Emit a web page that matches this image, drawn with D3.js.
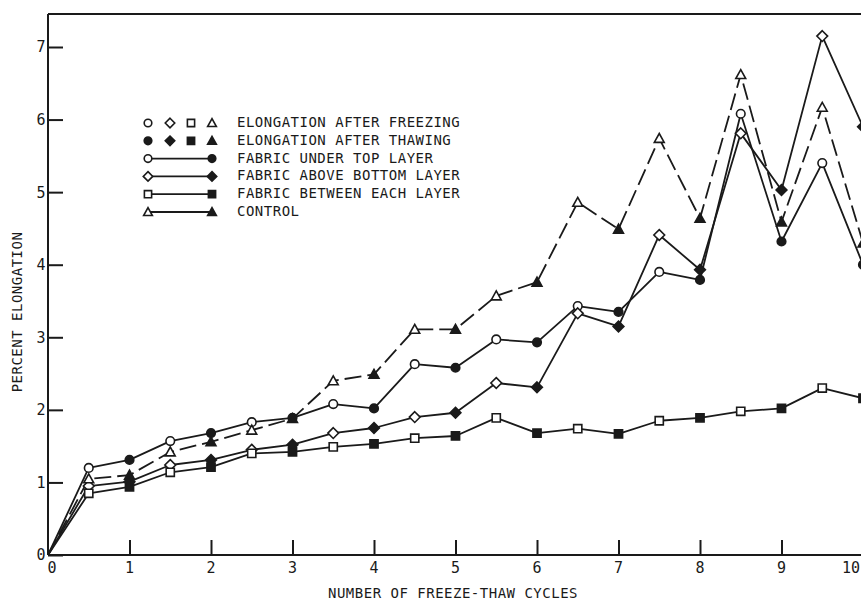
<!DOCTYPE html>
<html>
<head>
<meta charset="utf-8">
<script src="https://cdn.jsdelivr.net/npm/d3@7"></script>
<style>
  html, body { margin: 0; padding: 0; background: #fff; }
  svg { display: block; }
  text { font-family: "DejaVu Sans Mono", "Liberation Mono", monospace; fill: #1a1a1a; }
</style>
</head>
<body>
<svg id="chart" width="861" height="600"></svg>
<script>
// ---- data ----
const cycles = [0, 0.5, 1, 1.5, 2, 2.5, 3, 3.5, 4, 4.5, 5, 5.5, 6, 6.5, 7, 7.5, 8, 8.5, 9, 9.5, 10];
const underTopLayer    = [0, 1.20, 1.31, 1.57, 1.68, 1.83, 1.89, 2.08, 2.02, 2.63, 2.58, 2.97, 2.93, 3.43, 3.35, 3.90, 3.79, 6.08, 4.32, 5.40, 4.00];
const aboveBottomLayer = [0, 0.95, 1.01, 1.24, 1.31, 1.45, 1.52, 1.68, 1.75, 1.90, 1.96, 2.37, 2.31, 3.33, 3.15, 4.41, 3.93, 5.81, 5.03, 7.15, 5.90];
const betweenEachLayer = [0, 0.85, 0.94, 1.14, 1.21, 1.40, 1.42, 1.49, 1.53, 1.61, 1.64, 1.89, 1.68, 1.74, 1.67, 1.85, 1.89, 1.98, 2.02, 2.30, 2.16];
const controlSeries    = [0, 1.05, 1.10, 1.42, 1.56, 1.72, 1.88, 2.40, 2.49, 3.11, 3.11, 3.57, 3.76, 4.86, 4.49, 5.74, 4.64, 6.62, 4.59, 6.17, 4.30];
const xTicks = [0, 1, 2, 3, 4, 5, 6, 7, 8, 9, 10];
const yTicks = [0, 1, 2, 3, 4, 5, 6, 7];
const legendLabels = [
  "ELONGATION AFTER FREEZING",
  "ELONGATION AFTER THAWING",
  "FABRIC UNDER TOP LAYER",
  "FABRIC ABOVE BOTTOM LAYER",
  "FABRIC BETWEEN EACH LAYER",
  "CONTROL"
];
const xTitle = "NUMBER OF FREEZE-THAW CYCLES";
const yTitle = "PERCENT ELONGATION";

const series = [
  { name: "FABRIC UNDER TOP LAYER", values: underTopLayer, shape: "circle", dashed: false },
  { name: "FABRIC ABOVE BOTTOM LAYER", values: aboveBottomLayer, shape: "diamond", dashed: false },
  { name: "FABRIC BETWEEN EACH LAYER", values: betweenEachLayer, shape: "square", dashed: false },
  { name: "CONTROL", values: controlSeries, shape: "triangle", dashed: true }
];

// ---- layout ----
const svg = d3.select("#chart");
const ink = "#1a1a1a";
const x = d3.scaleLinear().domain([0, 10]).range([48, 863]);
const y = d3.scaleLinear().domain([0, 7]).range([555, 47]);
const plotTop = 14;

// marker shapes
function shapePath(shape, s) {
  switch (shape) {
    case "circle": return d3.symbol().type(d3.symbolCircle).size(Math.PI * s * s)();
    case "diamond": { const d = s * 1.25; return `M0,${-d}L${d},0L0,${d}L${-d},0Z`; }
    case "square": { const h = s * 0.95; return `M${-h},${-h}H${h}V${h}H${-h}Z`; }
    case "triangle": { const h = s * 1.15; return `M0,${-h}L${h},${h * 0.8}L${-h},${h * 0.8}Z`; }
  }
}
function drawMarker(g, shape, cx, cy, filled, s) {
  g.append("path")
    .attr("d", shapePath(shape, s))
    .attr("transform", `translate(${cx},${cy})`)
    .attr("fill", filled ? ink : "#fff")
    .attr("stroke", ink)
    .attr("stroke-width", 1.6);
}

// ---- frame / axes ----
const axisG = svg.append("g");
axisG.append("line").attr("x1", x(0)).attr("x2", 861).attr("y1", plotTop).attr("y2", plotTop)
  .attr("stroke", ink).attr("stroke-width", 2);

const yAxis = d3.axisRight(y).tickValues(yTicks).tickSize(15).tickFormat("");
const yg = svg.append("g").attr("transform", `translate(${x(0)},0)`).call(yAxis);
yg.select(".domain").remove();
yg.selectAll(".tick line").attr("stroke", ink).attr("stroke-width", 2);
axisG.append("line").attr("x1", x(0)).attr("x2", x(0)).attr("y1", plotTop).attr("y2", y(0))
  .attr("stroke", ink).attr("stroke-width", 2);
svg.append("g").selectAll("text").data(yTicks).join("text")
  .attr("x", 41).attr("y", d => y(d)).attr("dy", "0.36em")
  .attr("text-anchor", "middle").attr("font-size", 15)
  .text(d => d);

const xAxis = d3.axisTop(x).tickValues(xTicks.filter(d => d > 0)).tickSize(15).tickFormat("");
const xg = svg.append("g").attr("transform", `translate(0,${y(0)})`).call(xAxis);
xg.select(".domain").remove();
xg.selectAll(".tick line").attr("stroke", ink).attr("stroke-width", 2);
axisG.append("line").attr("x1", x(0)).attr("x2", 861).attr("y1", y(0)).attr("y2", y(0))
  .attr("stroke", ink).attr("stroke-width", 2);
svg.append("g").selectAll("text").data(xTicks).join("text")
  .attr("x", d => d === 0 ? x(d) + 4 : (d === 10 ? 860 : x(d)))
  .attr("y", 568).attr("dy", "0.36em")
  .attr("text-anchor", d => d === 10 ? "end" : "middle").attr("font-size", 15)
  .text(d => d);

// titles
svg.append("text").attr("x", 453).attr("y", 593).attr("dy", "0.36em")
  .attr("text-anchor", "middle").attr("font-size", 14).attr("letter-spacing", 0.5)
  .text(xTitle);
svg.append("text").attr("transform", "translate(17,312) rotate(-90)").attr("dy", "0.36em")
  .attr("text-anchor", "middle").attr("font-size", 14).attr("letter-spacing", 0.5)
  .text(yTitle);

// ---- series ----
const line = d3.line().x(d => x(d[0])).y(d => y(d[1]));
const linesG = svg.append("g");
const marksG = svg.append("g");
series.forEach(s => {
  const pts = cycles.map((c, i) => [c, s.values[i]]);
  linesG.append("path")
    .attr("d", line(pts))
    .attr("fill", "none")
    .attr("stroke", ink)
    .attr("stroke-width", 1.8)
    .attr("stroke-linejoin", "round")
    .attr("stroke-dasharray", s.dashed ? "17,6" : null);
});
series.forEach(s => {
  cycles.forEach((c, i) => {
    if (i === 0) return;
    const filled = Number.isInteger(c);
    drawMarker(marksG, s.shape, x(c), y(s.values[i]), filled, 4.3);
  });
});

// ---- legend ----
const lg = svg.append("g");
const symX = [148, 170, 191, 212];
const rowY = d3.range(6).map(i => 123 + i * 17.8);
const shapes = ["circle", "diamond", "square", "triangle"];
shapes.forEach((sh, j) => {
  drawMarker(lg, sh, symX[j], rowY[0], false, 3.8);
  drawMarker(lg, sh, symX[j], rowY[1], true, 3.8);
});
shapes.forEach((sh, j) => {
  const ry = rowY[2 + j];
  lg.append("line").attr("x1", symX[0]).attr("x2", symX[3]).attr("y1", ry).attr("y2", ry)
    .attr("stroke", ink).attr("stroke-width", 1.8);
  drawMarker(lg, sh, symX[0], ry, false, 3.8);
  drawMarker(lg, sh, symX[3], ry, true, 3.8);
});
lg.selectAll("text").data(legendLabels).join("text")
  .attr("x", 237).attr("y", (d, i) => rowY[i] - 1).attr("dy", "0.36em")
  .attr("font-size", 14).attr("letter-spacing", 0.5)
  .text(d => d);
</script>
</body>
</html>
